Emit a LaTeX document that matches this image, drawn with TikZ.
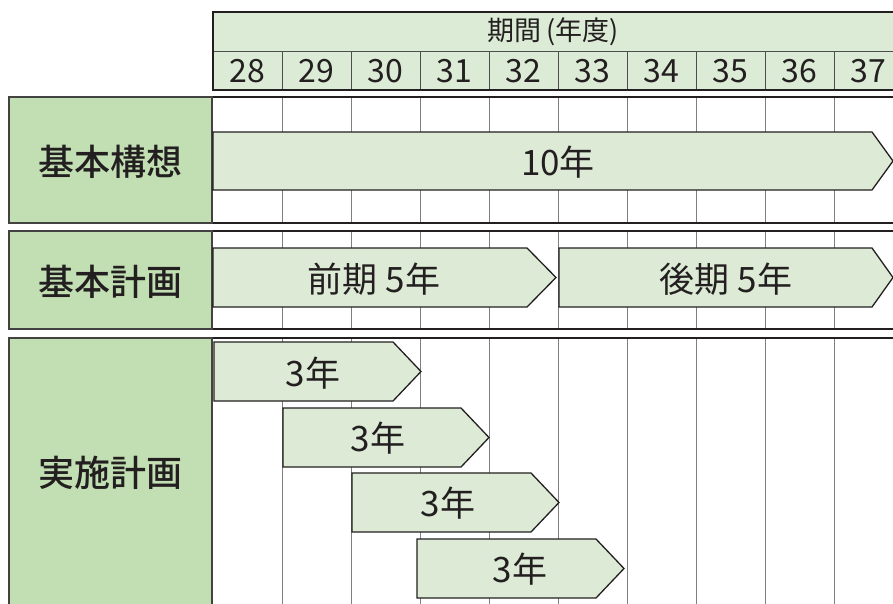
\documentclass[tikz,border=0pt]{standalone}
\usepackage{fontspec}
\setmainfont{Noto Sans CJK JP}
\newfontfamily\lblfont{Noto Sans CJK JP}[UprightFont=* Medium]
\definecolor{hdr}{HTML}{DCEBD5}
\definecolor{lbl}{HTML}{C2DFB3}
\definecolor{barc}{HTML}{DDEBD6}
\definecolor{ink}{HTML}{231F20}
\definecolor{gridc}{HTML}{7F7F7F}
\tikzset{
  rowline/.style={draw=ink, line width=1.8pt},
  gridline/.style={draw=gridc, line width=1pt},
  hdrline/.style={draw=ink!80, line width=1pt},
  lblbox/.style={fill=lbl, draw=ink!85, line width=1.4pt},
  barbox/.style={fill=barc, draw=ink, line width=1.3pt, line join=miter},
  lbltext/.style={inner sep=0pt, text=ink, font=\lblfont\fontsize{36}{40}\selectfont},
  bartext/.style={inner sep=0pt, text=ink, font=\fontsize{35}{38}\selectfont},
  titletext/.style={inner sep=0pt, text=ink, font=\fontsize{27}{30}\selectfont},
  yeartext/.style={inner sep=0pt, text=ink, font=\fontsize{32}{34}\selectfont},
}
\begin{document}
\begin{tikzpicture}[x=1pt,y=-1pt]
\useasboundingbox (0,0) rectangle (893,604);
\fill[white] (0,0) rectangle (893,604);

% header
\fill[hdr] (213,12) rectangle (900,90);
\foreach \x in {282,351,...,834} \draw[hdrline] (\x,52) -- (\x,90);
\draw[hdrline] (213,52) -- (900,52);
\draw[rowline] (900,12) -- (213,12) -- (213,90) -- (900,90);
\node[titletext] (title) at (553,32) {期間\,(年度)};
\foreach \y [count=\i from 0] in {28,29,30,31,32,33,34,35,36,37}
  \node[yeartext] (y\y) at (247.5+69*\i,71) {\y};

% rows grid
\foreach \t/\b in {97/223,231/329,338/620} {
  \foreach \x in {282,351,...,834} \draw[gridline] (\x,\t) -- (\x,\b);
  \draw[rowline] (212,\t) -- (900,\t);
  \draw[rowline] (212,\b) -- (900,\b);
}

% label boxes
\draw[lblbox] (9,97) rectangle (212,223);
\node[lbltext] (l1) at (110,162) {基本構想};
\draw[lblbox] (9,231) rectangle (212,329);
\node[lbltext] (l2) at (110,282) {基本計画};
\draw[lblbox] (9,338) rectangle (212,620);
\node[lbltext] (l3) at (110,473) {実施計画};

% bars row 1
\draw[barbox] (213,132) -- (872,132) -- (893,161) -- (872,190) -- (213,190) -- cycle;
\node[bartext] (b1) at (558,162) {10年};
% bars row 2
\draw[barbox] (213,248) -- (527,248) -- (556,277.5) -- (527,307) -- (213,307) -- cycle;
\node[bartext] (b2) at (374,279) {前期 5年};
\draw[barbox] (559,248) -- (872,248) -- (893,277.5) -- (872,307) -- (559,307) -- cycle;
\node[bartext] (b3) at (726,279) {後期 5年};
% bars row 3
\draw[barbox] (214,342) -- (393,342) -- (421,371.5) -- (393,401) -- (214,401) -- cycle;
\node[bartext] (c1) at (313,373) {3年};
\draw[barbox] (283,408) -- (461,408) -- (489,437.5) -- (461,467) -- (283,467) -- cycle;
\node[bartext] (c2) at (378,438) {3年};
\draw[barbox] (352,473) -- (531,473) -- (559,502.5) -- (531,532) -- (352,532) -- cycle;
\node[bartext] (c3) at (448,503) {3年};
\draw[barbox] (417,539) -- (596,539) -- (624,568.5) -- (596,598) -- (417,598) -- cycle;
\node[bartext] (c4) at (520,569) {3年};
\end{tikzpicture}
\end{document}
